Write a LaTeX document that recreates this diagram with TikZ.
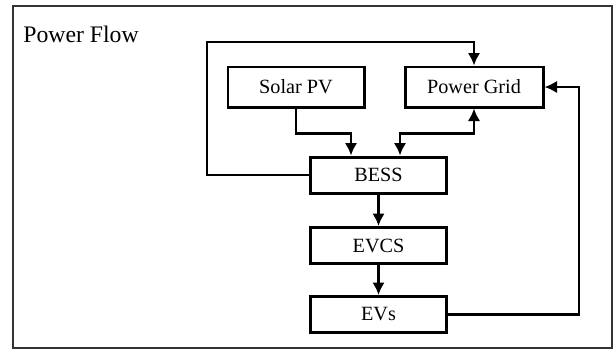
\documentclass[tikz,border=0pt]{standalone}
\usepackage{fontspec}
\setmainfont{Liberation Serif}
\usepackage{tikz}
\usetikzlibrary{arrows.meta, positioning, calc}
\tikzset{
  unit/.style    = {rectangle, draw=black, line width=1.7pt, fill=white,
                    minimum width=2.72cm, minimum height=0.72cm,
                    inner sep=0pt, font=\fontsize{11.5}{13}\selectfont},
  topunit/.style = {unit, minimum height=0.8cm},
  flow/.style    = {-{Latex[length=2.5mm,width=2.5mm]}, line width=1.4pt},
  dflow/.style   = {{Latex[length=2.5mm,width=2.5mm]}-{Latex[length=2.5mm,width=2.5mm]}, line width=1.4pt},
  frameline/.style = {draw=black!80, line width=0.9pt},
}

\begin{document}
\begin{tikzpicture}
  % page size and outer frame
  \useasboundingbox (0,0) rectangle (12.28,7);
  \draw[frameline] (0.26,0.04) rectangle (12.24,6.88);
  \node[anchor=base west, inner sep=0pt, font=\fontsize{13.5}{15}\selectfont]
    (title) at (0.46,6.16) {Power Flow};

  % units
  \node[topunit] (solar) at (5.92,5.26) {Solar PV};
  \node[topunit, minimum width=2.76cm] (grid) at (9.48,5.26) {Power Grid};
  \node[unit] (bess) at (7.57,3.50) {BESS};
  \node[unit] (evcs) at (7.57,2.09) {EVCS};
  \node[unit] (evs)  at (7.57,0.71) {EVs};

  % corner points of the two feedback loops
  \coordinate (looptop) at (4.14,6.16);

  % flows into BESS
  \draw[flow] (solar.south) -- ++(0,-0.5) -| ([xshift=-0.55cm]bess.north);
  \draw[dflow] (grid.south) -- ++(0,-0.5) -| ([xshift=0.43cm]bess.north);

  % BESS back to the grid
  \draw[flow] (bess.west) -| (looptop) -| (grid.north);

  % down the chain
  \draw[flow] (bess.south) -- (evcs.north);
  \draw[flow] (evcs.south) -- (evs.north);

  % EVs back to the grid
  \draw[flow] (evs.east) -- ++(2.62,0) |- (grid.east);
\end{tikzpicture}
\end{document}
